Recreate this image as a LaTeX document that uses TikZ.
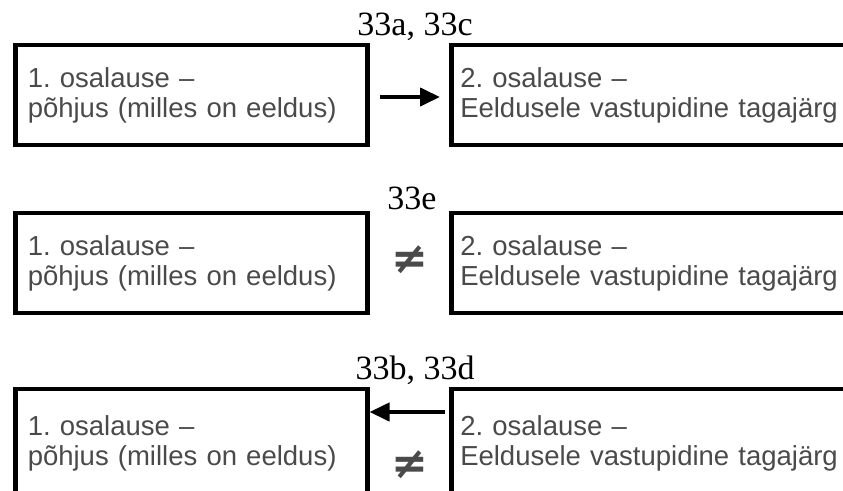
\documentclass[tikz,border=0pt]{standalone}
\usepackage{fontspec}
\setmainfont{Liberation Sans}
\newfontfamily\numbrifont{Liberation Serif}
\newfontfamily\markfont{DejaVu Sans}
\usetikzlibrary{arrows.meta}
\definecolor{lausehall}{HTML}{4A4A4A}
\frenchspacing

\begin{document}
\begin{tikzpicture}[x=1pt, y=-1pt,
		lause/.style={draw, line width=4.5pt, minimum height=100pt, anchor=west, align=left, text=lausehall, font=\fontsize{27.5}{30}\selectfont},
		esimene/.style={lause, minimum width=352pt, text width=327pt, inner xsep=12.5pt},
		teine/.style={lause, minimum width=420pt, text width=402pt, inner xsep=9pt},
		silt/.style={anchor=base, font=\numbrifont\fontsize{34}{34}\selectfont},
		vastu/.style={text=lausehall, font=\markfont\bfseries\fontsize{44}{44}\selectfont},
		nool/.style={line width=4pt, -{Triangle[length=20pt, width=18pt]}}]
		\useasboundingbox (0, 0) rectangle (843, 490);
		\clip (0, 0) rectangle (843, 490);

		\node[esimene] at (13, 95) (l1) {1. osalause --\\põhjus (milles on eeldus)};
		\node[teine] at (449, 95) (r1) {2. osalause --\\Eeldusele vastupidine tagajärg};
		\node[esimene] at (13, 263) (l2) {1. osalause --\\põhjus (milles on eeldus)};
		\node[teine] at (449, 263) (r2) {2. osalause --\\Eeldusele vastupidine tagajärg};
		\node[esimene, minimum height=108pt] at (13, 443) (l3) {1. osalause --\\põhjus (milles on eeldus)};
		\node[teine, minimum height=108pt] at (449, 443) (r3) {2. osalause --\\Eeldusele vastupidine tagajärg};

		\node[silt] at (415, 35) (s1) {33a, 33c};
		\node[silt] at (412, 209) (s2) {33e};
		\node[silt] at (415, 379) (s3) {33b, 33d};

		\node[vastu] at (410, 260) (v2) {≠};
		\node[vastu] at (410, 465) (v3) {≠};

		\draw[nool, shorten <=10pt, shorten >=9pt] ([yshift=-2pt]l1.east) -- ([yshift=-2pt]r1.west);
		\draw[nool, shorten <=4pt] ([yshift=31pt]r3.west) -- ([yshift=31pt]l3.east);
	\end{tikzpicture}
\end{document}
